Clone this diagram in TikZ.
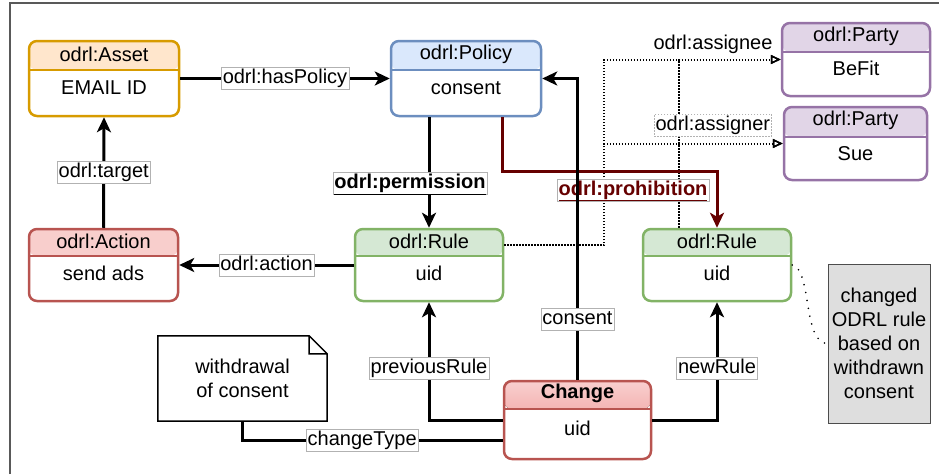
\documentclass[tikz,border=0pt]{standalone}
\usepackage{fontspec}
\setmainfont{Liberation Sans}
\usetikzlibrary{arrows.meta}
\definecolor{assetfill}{HTML}{FFE6CC}\definecolor{assetline}{HTML}{D79B00}
\definecolor{policyfill}{HTML}{DAE8FC}\definecolor{policyline}{HTML}{6C8EBF}
\definecolor{partyfill}{HTML}{E1D5E7}\definecolor{partyline}{HTML}{9673A6}
\definecolor{actionfill}{HTML}{F8CECC}\definecolor{actionline}{HTML}{B85450}
\definecolor{rulefill}{HTML}{D5E8D4}\definecolor{ruleline}{HTML}{82B366}
\definecolor{changetop}{HTML}{F9CFCF}\definecolor{changebot}{HTML}{EA8683}
\definecolor{prohib}{HTML}{660000}
% name, centre, width, height, header, line, fill, title, body
\newcommand{\entity}[9]{%
  \node[entity=#6, minimum width=#3pt, minimum height=#4pt,
    path picture={
      \fill[#7] (path picture bounding box.north west) rectangle ([yshift=-#5pt]path picture bounding box.north east);
      \draw[#6, line width=2.5pt] ([yshift=-#5pt]path picture bounding box.north west) -- ([yshift=-#5pt]path picture bounding box.north east);
    }] (#1) at (#2) {};
  \node (#1-title) at ([yshift=-#5pt/2]#1.north) {#8};
  \node (#1-body) at ([yshift=-(#5+(#4-#5)/2-4)*1pt]#1.north) {#9};
}
\begin{document}
\begin{tikzpicture}[x=1pt,y=-1pt,
  every node/.style={font=\fontsize{20}{24}\selectfont, inner sep=0pt},
  entity/.style={draw=#1, line width=2.5pt, rounded corners=8pt},
  rel/.style={line width=3pt, -{Stealth[length=15pt,width=14pt,inset=4pt]}},
  link/.style={line width=3pt},
  dotrel/.style={line width=2pt, dash pattern=on 1.5pt off 1.5pt, -{Triangle[open,length=10pt,width=9pt,line width=1.5pt]}},
  lbl/.style={fill=white, draw=black!30, line width=.5pt, inner sep=1.5pt, text height=14.5pt, text depth=4.5pt}]
\useasboundingbox (0,0) rectangle (939,474);
\draw[black!65, line width=1.5pt] (10,474) -- (10,3) -- (939,3); % frame

\entity{asset}{104,78.5}{150}{75}{29}{assetline}{assetfill}{odrl:Asset}{EMAIL ID}
\entity{policy}{466,78.5}{150}{75}{29}{policyline}{policyfill}{odrl:Policy}{consent}
\entity{befit}{856,59.5}{148}{73}{29}{partyline}{partyfill}{odrl:Party}{BeFit}
\entity{sue}{855.5,143.5}{143}{73}{30}{partyline}{partyfill}{odrl:Party}{Sue}
\entity{action}{103.5,265}{149}{72}{27}{actionline}{actionfill}{odrl:Action}{send ads}
\entity{rule1}{429,265}{148}{72}{27}{ruleline}{rulefill}{odrl:Rule}{uid}
\entity{rule2}{717,265}{148}{72}{27}{ruleline}{rulefill}{odrl:Rule}{uid}
\entity{change}{577.5,420}{147}{78}{28}{actionline}{top color=changetop,bottom color=changebot}{\textbf{Change}}{uid}

% note and remark
\node[minimum width=169pt, minimum height=85pt, align=center] (note) at (242.5,378.5) {withdrawal\\of consent};
\draw[line width=1.5pt] (note.south west) -- (note.north west) -- ([xshift=-18pt]note.north east)
  -- ([yshift=-18pt]note.north east) -- (note.south east) -- cycle
  ([xshift=-18pt]note.north east) |- ([yshift=-18pt]note.north east);
\node[draw=black!70, fill=black!13, line width=1pt, minimum width=102pt, minimum height=159pt, align=center] (remark) at (879,343.5)
  {changed\\ODRL rule\\based on\\withdrawn\\consent};

% parties
\draw[dotrel] ([yshift=20pt]rule1.east) -- ++(100,0) |- (befit.west);
\draw[dotrel] ([yshift=20pt]rule1.east) -- ++(100,0) |- (sue.west);
\draw[dotrel] ([xshift=-38pt]rule2.north) |- node[pos=.667, above=5pt] (assigneelbl) {odrl:assignee} (befit.west);
\draw[dotrel] ([xshift=-38pt]rule2.north) |- node[lbl, pos=.663, above=7pt] (assignerlbl) {odrl:assigner} (sue.west);
\draw[line width=1.8pt, line cap=round, dash pattern=on 0pt off 8pt] (rule2.east) .. controls +(20,5) and +(-25,0) .. (remark.west);

\draw[rel] (asset.east) -- node[lbl] (haspolicylbl) {odrl:hasPolicy} (policy.west);
\draw[rel] (action.north) -- node[lbl] (targetlbl) {odrl:target} (asset.south);
\draw[rel] (rule1.north |- policy.south) -- node[lbl, pos=.6, xshift=-19pt] (permlbl) {\underline{\textbf{odrl:permission}}} (rule1.north);
\draw[rel] (rule1.west) -- node[lbl] (actionlbl) {odrl:action} (action.east);
\draw[rel, prohib] ([xshift=36pt]policy.south) -- ++(0,54) -| (rule2.north);
\node[lbl, text=prohib] (prohiblbl) at (633,190) {\underline{\textbf{odrl:prohibition}}};
\draw[rel] (change.north) |- node[lbl, pos=.1] (consentlbl) {consent} (policy.east);
\draw[rel] (change.west) -| node[lbl, pos=.72] (prevlbl) {previousRule} (rule1.south);
\draw[rel] (change.east) -| node[lbl, pos=.72] (newlbl) {newRule} (rule2.south);
\draw[link] ([yshift=-20pt]change.west) -| node[lbl, pos=.27] (typelbl) {changeType} (note.south);
\end{tikzpicture}
\end{document}
